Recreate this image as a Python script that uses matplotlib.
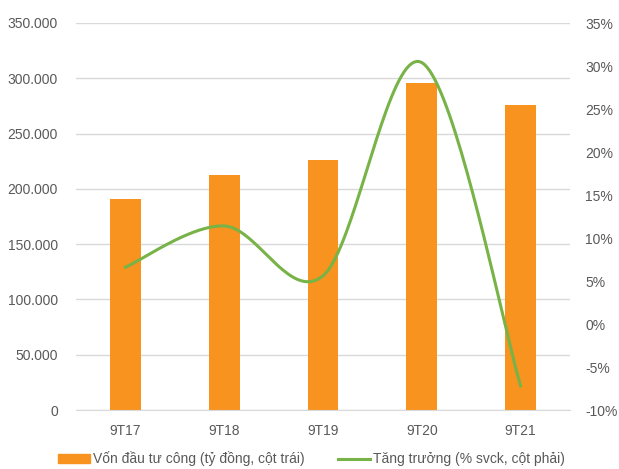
import numpy as np
import matplotlib.pyplot as plt
from matplotlib.lines import Line2D
from matplotlib.patches import Patch

plt.rcParams['font.family'] = ['Liberation Sans', 'DejaVu Sans']

categories = ['9T17', '9T18', '9T19', '9T20', '9T21']
von_dau_tu = [191000, 212500, 226500, 296000, 275500]
tang_truong = [6.6, 11.4, 5.6, 30.4, -7.2]

ORANGE = '#F7931E'
GREEN = '#77B347'
GRID = '#D9D9D9'
TEXT = '#595959'


def smooth_curve(x, y, n=40):
    # bezier segments with catmull-rom style control points (like excel smoothing)
    x = np.asarray(x, float)
    y = np.asarray(y, float)
    xs, ys = [], []
    m = len(x)
    for i in range(m - 1):
        p0 = (x[max(i - 1, 0)], y[max(i - 1, 0)])
        p1 = (x[i], y[i])
        p2 = (x[i + 1], y[i + 1])
        p3 = (x[min(i + 2, m - 1)], y[min(i + 2, m - 1)])
        c1 = (p1[0] + (p2[0] - p0[0]) / 6, p1[1] + (p2[1] - p0[1]) / 6)
        c2 = (p2[0] - (p3[0] - p1[0]) / 6, p2[1] - (p3[1] - p1[1]) / 6)
        t = np.linspace(0, 1, n)
        bx = (1-t)**3*p1[0] + 3*(1-t)**2*t*c1[0] + 3*(1-t)*t**2*c2[0] + t**3*p2[0]
        by = (1-t)**3*p1[1] + 3*(1-t)**2*t*c1[1] + 3*(1-t)*t**2*c2[1] + t**3*p2[1]
        xs.extend(bx)
        ys.extend(by)
    return np.array(xs), np.array(ys)


fig = plt.figure(figsize=(6.19, 4.69), dpi=100)
ax = fig.add_axes([76/619, 1 - 410/469, (570-76)/619, (410-23)/469])
x = np.arange(len(categories))

ax.bar(x, von_dau_tu, width=0.31, color=ORANGE, zorder=2)
ax.set_ylim(0, 350000)
ax.set_xlim(-0.5, len(categories) - 0.5)
ax.set_yticks(np.arange(0, 350001, 50000))
ax.set_yticklabels(['0'] + ['{:,}'.format(v).replace(',', '.') for v in range(50000, 350001, 50000)])
ax.set_xticks(x)
ax.set_xticklabels(categories)
ax.grid(axis='y', color=GRID, lw=1, zorder=0)
ax.set_axisbelow(True)
for s in ax.spines.values():
    s.set_visible(False)
ax.spines['bottom'].set_visible(True)
ax.spines['bottom'].set_color(GRID)
ax.tick_params(length=0, colors=TEXT, labelsize=10)
ax.tick_params(axis='y', pad=13)
ax.tick_params(axis='x', pad=10)

ax2 = ax.twinx()
sx, sy = smooth_curve(x, tang_truong)
ax2.plot(sx, sy, color=GREEN, lw=2.2, zorder=3)
ax2.set_ylim(-10, 35)
ax2.set_yticks(np.arange(-10, 36, 5))
ax2.set_yticklabels(['{}%'.format(v) for v in range(-10, 36, 5)])
for s in ax2.spines.values():
    s.set_visible(False)
ax2.tick_params(length=0, colors=TEXT, labelsize=10, pad=11)

handles = [Patch(color=ORANGE), Line2D([0], [0], color=GREEN, lw=2.2)]
labels = ['Vốn đầu tư công (tỷ đồng, cột trái)', 'Tăng trưởng (% svck, cột phải)']
leg = fig.legend(handles, labels, loc='center', bbox_to_anchor=(0.503, 1 - 459/469),
                 ncol=2, frameon=False, fontsize=10, handlelength=2.3,
                 handletextpad=0.2, columnspacing=2.4)
for t in leg.get_texts():
    t.set_color(TEXT)

fig.savefig('out.png', dpi=100)
